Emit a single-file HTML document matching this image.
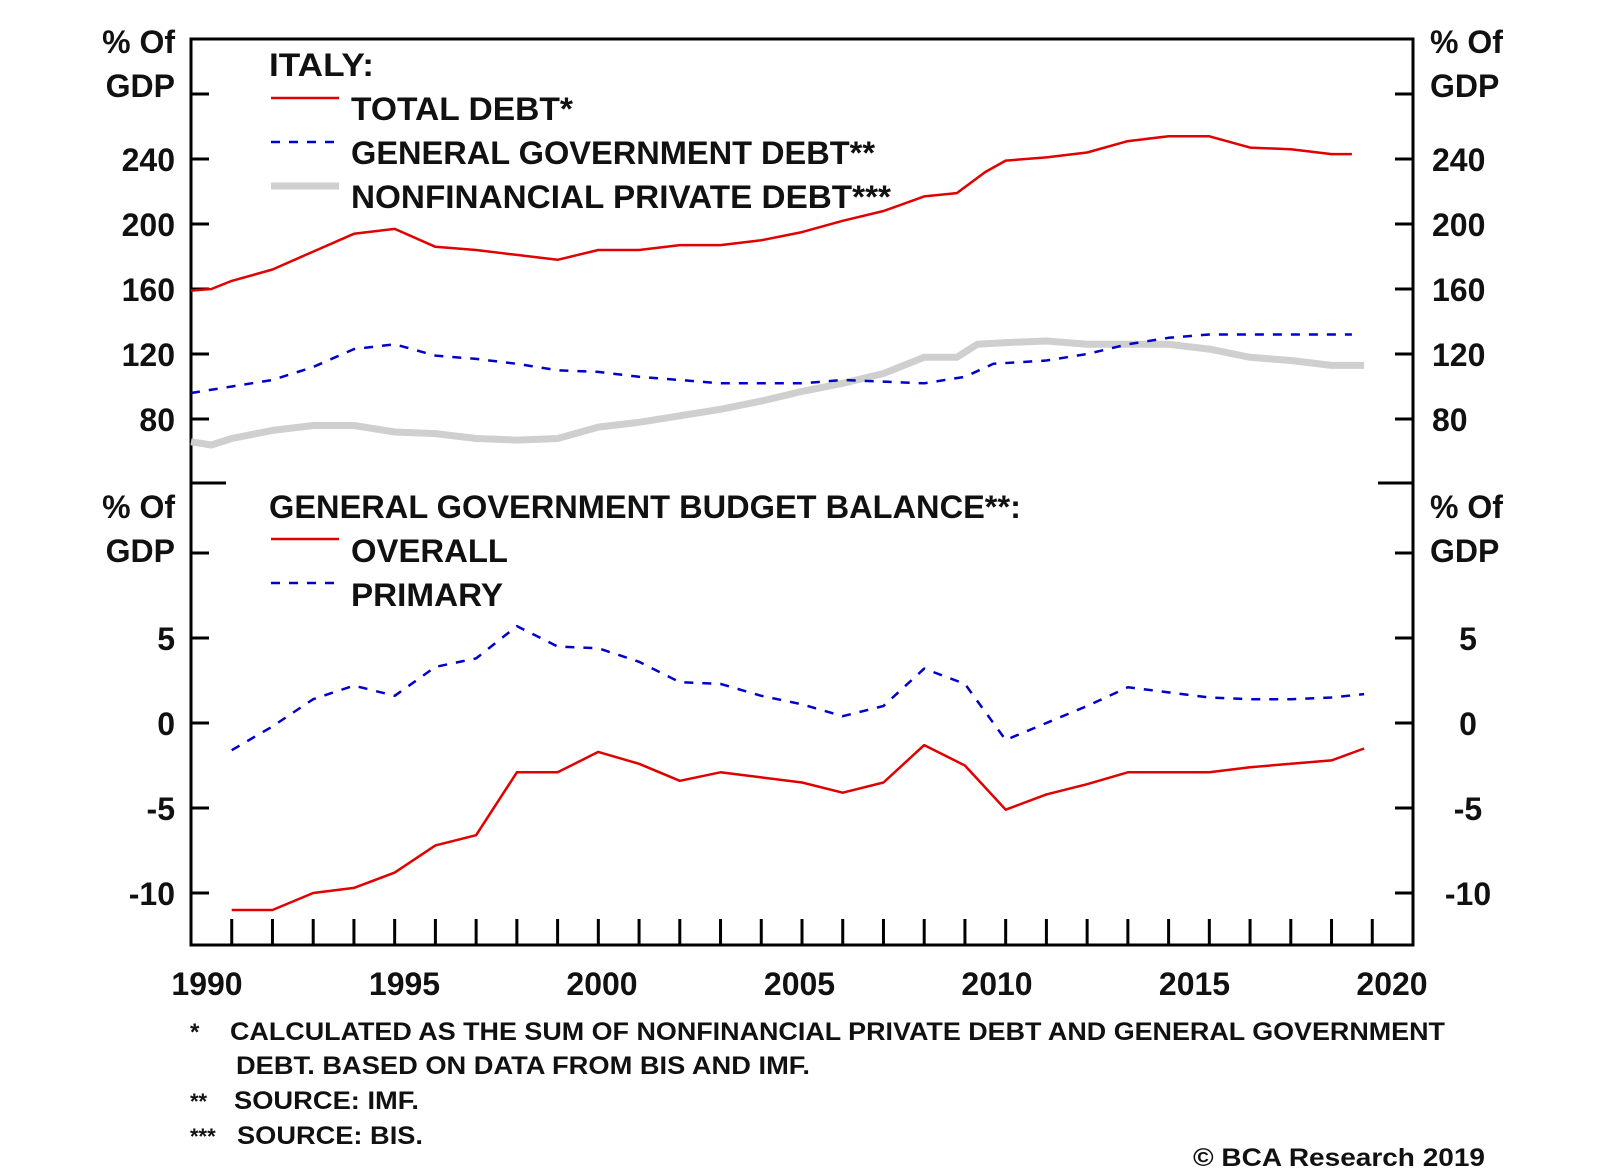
<!DOCTYPE html>
<html><head><meta charset="utf-8"><style>
html,body{margin:0;padding:0;background:#fff;}
svg{display:block;font-family:"Liberation Sans",Arial,sans-serif;}
text{fill:#111;font-weight:bold;}
</style></head><body>
<svg id="chart" width="1600" height="1170" viewBox="0 0 1600 1170">
<g id="frame"></g>
<g id="marks"></g>
<g id="labels"></g>
</svg>
<script>
// ---- data ----
const totalYears = [1990,1990.5,1991,1992,1993,1994,1995,1996,1997,1998,1999,2000,2001,2002,2003,2004,2005,2006,2007,2008,2008.8,2009.5,2010,2011,2012,2013,2014,2015,2016,2017,2018,2018.5];
const totalDebt  = [159,160,165,172,183,194,197,186,184,181,178,184,184,187,187,190,195,202,208,217,219,232,239,241,244,251,254,254,247,246,243,243];
const govYears = [1990,1991,1992,1993,1994,1995,1996,1997,1998,1999,2000,2001,2002,2003,2004,2005,2006,2007,2008,2009,2009.7,2011,2012,2013,2014,2015,2016,2017,2018,2018.5];
const govDebt  = [96,100,104,112,123,126,119,117,114,110,109,106,104,102,102,102,104,103,102,106,114,116,120,126,130,132,132,132,132,132];
const privYears = [1990,1990.5,1991,1992,1993,1994,1995,1996,1997,1998,1999,2000,2001,2002,2003,2004,2005,2006,2007,2008,2008.8,2009.3,2010,2011,2012,2013,2014,2015,2016,2017,2018,2018.8];
const privDebt  = [66,64,68,73,76,76,72,71,68,67,68,75,78,82,86,91,97,102,108,118,118,126,127,128,126,126,126,123,118,116,113,113];
const balYears = [1991,1992,1993,1994,1995,1996,1997,1998,1999,2000,2001,2002,2003,2004,2005,2006,2007,2008,2009,2010,2011,2012,2013,2014,2015,2016,2017,2018,2018.8];
const overall  = [-11,-11,-10,-9.7,-8.8,-7.2,-6.6,-2.9,-2.9,-1.7,-2.4,-3.4,-2.9,-3.2,-3.5,-4.1,-3.5,-1.3,-2.5,-5.1,-4.2,-3.6,-2.9,-2.9,-2.9,-2.6,-2.4,-2.2,-1.5];
const primary  = [-1.6,-0.2,1.4,2.2,1.6,3.3,3.8,5.7,4.5,4.4,3.6,2.4,2.3,1.6,1.1,0.4,1.0,3.2,2.3,-1.0,0.0,1.0,2.1,1.8,1.5,1.4,1.4,1.5,1.7];
const upperTicks = [80,120,160,200,240,280];
const upperTickLabels = ["80","120","160","200","240"];
const lowerTicks = [-10,-5,0,5,10];
const lowerTickLabels = ["-10","-5","0","5"];
const yearLabels = [1990,1995,2000,2005,2010,2015,2020];

// ---- geometry ----
const L=191, R=1413, T=39, MID=483, B=945;
const NS="http://www.w3.org/2000/svg";
const xs = y => L + (y-1990)*(R-L)/30;
const yu = v => 159 + (240-v)*1.625;
const yl = v => 723 - v*17;
function el(tag, attrs, parent, txt){
  const e=document.createElementNS(NS,tag);
  for(const k in attrs) e.setAttribute(k,attrs[k]);
  if(txt!==undefined) e.textContent=txt;
  parent.appendChild(e); return e;
}
const frame=document.getElementById('frame'), marks=document.getElementById('marks'), labels=document.getElementById('labels');

let r=el('rect',{x:L,y:T,width:R-L,height:B-T,fill:'none',stroke:'#000','stroke-width':3},frame);


upperTicks.forEach(v=>{
  const y=yu(v);
  let a=el('line',{x1:L,x2:L+18,y1:y,y2:y,stroke:'#000','stroke-width':3},frame);
  
  
  let b=el('line',{x1:R-18,x2:R,y1:y,y2:y,stroke:'#000','stroke-width':3},frame);
  
  
});
[MID].forEach(y=>{
  let a=el('line',{x1:L,x2:L+35,y1:y,y2:y,stroke:'#000','stroke-width':3},frame);
  
  
  let b=el('line',{x1:R-35,x2:R,y1:y,y2:y,stroke:'#000','stroke-width':3},frame);
  
  
});
lowerTicks.forEach(v=>{
  const y=yl(v);
  let a=el('line',{x1:L,x2:L+18,y1:y,y2:y,stroke:'#000','stroke-width':3},frame);
  
  
  let b=el('line',{x1:R-18,x2:R,y1:y,y2:y,stroke:'#000','stroke-width':3},frame);
  
  
});
for(let yr=1991; yr<2020; yr++){
  let t=el('line',{x1:xs(yr),x2:xs(yr),y1:B,y2:B-26,stroke:'#000','stroke-width':3},frame);
  
  
}
upperTickLabels.forEach(s=>{
  const y=yu(+s)+12;
  let a=el('text',{x:175,y:y,'font-size':32,'text-anchor':'end'},labels,s);
  
  
  let b=el('text',{x:1432,y:y,'font-size':32},labels,s);
  
  
});
lowerTickLabels.forEach(s=>{
  const y=yl(+s)+12;
  let a=el('text',{x:175,y:y,'font-size':32,'text-anchor':'end'},labels,s);
  
  
  let b=el('text',{x:1468,y:y,'font-size':32,'text-anchor':'middle'},labels,s);
  
  
});
yearLabels.forEach(yr=>{
  const x=207+(yr-1990)*(1392-207)/30;
  let t=el('text',{x:x,y:995,'font-size':32,'text-anchor':'middle'},labels,String(yr));
  
  
});
[[40,'upper'],[505,'lower']].forEach(([y0,p])=>{
  let a=el('text',{x:175,y:y0+13,'font-size':32,'text-anchor':'end'},labels,'% Of');
  
  
  let a2=el('text',{x:175,y:y0+57,'font-size':32,'text-anchor':'end'},labels,'GDP');
  
  
  let b=el('text',{x:1430,y:y0+13,'font-size':32},labels,'% Of');
  
  
  let b2=el('text',{x:1430,y:y0+57,'font-size':32},labels,'GDP');
  
  
});
function line(xv,yv,ys,attrs,name){
  const d=xv.map((x,i)=>(i?'L':'M')+xs(x).toFixed(1)+' '+ys(yv[i]).toFixed(1)).join(' ');
  const p=el('path',Object.assign({d:d,fill:'none','stroke-linejoin':'round'},attrs),marks);
  
  
}
line(privYears,privDebt,yu,{stroke:'#cfcfcf','stroke-width':7},'private-debt-line');
line(govYears,govDebt,yu,{stroke:'#0000cc','stroke-width':2.5,'stroke-dasharray':'9 9'},'gov-debt-line');
line(totalYears,totalDebt,yu,{stroke:'#e00000','stroke-width':2.5},'total-debt-line');
line(balYears,primary,yl,{stroke:'#0000cc','stroke-width':2.5,'stroke-dasharray':'9 9'},'primary-balance-line');
line(balYears,overall,yl,{stroke:'#e00000','stroke-width':2.5},'overall-balance-line');

function txt(x,y,s,len,size,name){
  const a={x:x,y:y,'font-size':size};
  if(len){a.textLength=len;a.lengthAdjust='spacingAndGlyphs';}
  const t=el('text',a,labels,s);
  
  
}
function key(y,attrs,name){
  const l=el('line',Object.assign({x1:271,x2:339,y1:y,y2:y},attrs),labels);
  
  
}
txt(269,76,'ITALY:',105,32,'upper-legend-title');
key(98,{stroke:'#e00000','stroke-width':2.5},'legend-total-debt-key');
txt(351,120,'TOTAL DEBT*',222,32,'legend-total-debt');
key(142,{stroke:'#0000cc','stroke-width':2.5,'stroke-dasharray':'9 9'},'legend-gov-debt-key');
txt(351,164,'GENERAL GOVERNMENT DEBT**',524,32,'legend-gov-debt');
key(186,{stroke:'#cfcfcf','stroke-width':7},'legend-private-debt-key');
txt(351,208,'NONFINANCIAL PRIVATE DEBT***',540,32,'legend-private-debt');
txt(269,518,'GENERAL GOVERNMENT BUDGET BALANCE**:',752,32,'lower-legend-title');
key(539,{stroke:'#e00000','stroke-width':2.5},'legend-overall-key');
txt(351,562,'OVERALL',157,32,'legend-overall');
key(583,{stroke:'#0000cc','stroke-width':2.5,'stroke-dasharray':'9 9'},'legend-primary-key');
txt(351,606,'PRIMARY',152,32,'legend-primary');

txt(190,1040,'*',null,24,'footnote-1-mark');
txt(230,1040,'CALCULATED AS THE SUM OF NONFINANCIAL PRIVATE DEBT AND GENERAL GOVERNMENT',1215,25,'footnote-1');
txt(236,1074,'DEBT. BASED ON DATA FROM BIS AND IMF.',574,25,'footnote-1-cont');
txt(190,1109,'**',null,22,'footnote-2-mark');
txt(234,1109,'SOURCE: IMF.',185,25,'footnote-2');
txt(190,1144,'***',null,22,'footnote-3-mark');
txt(237,1144,'SOURCE: BIS.',186,25,'footnote-3');
txt(1193,1166,'© BCA Research 2019',292,25,'copyright');
</script>
</body></html>
